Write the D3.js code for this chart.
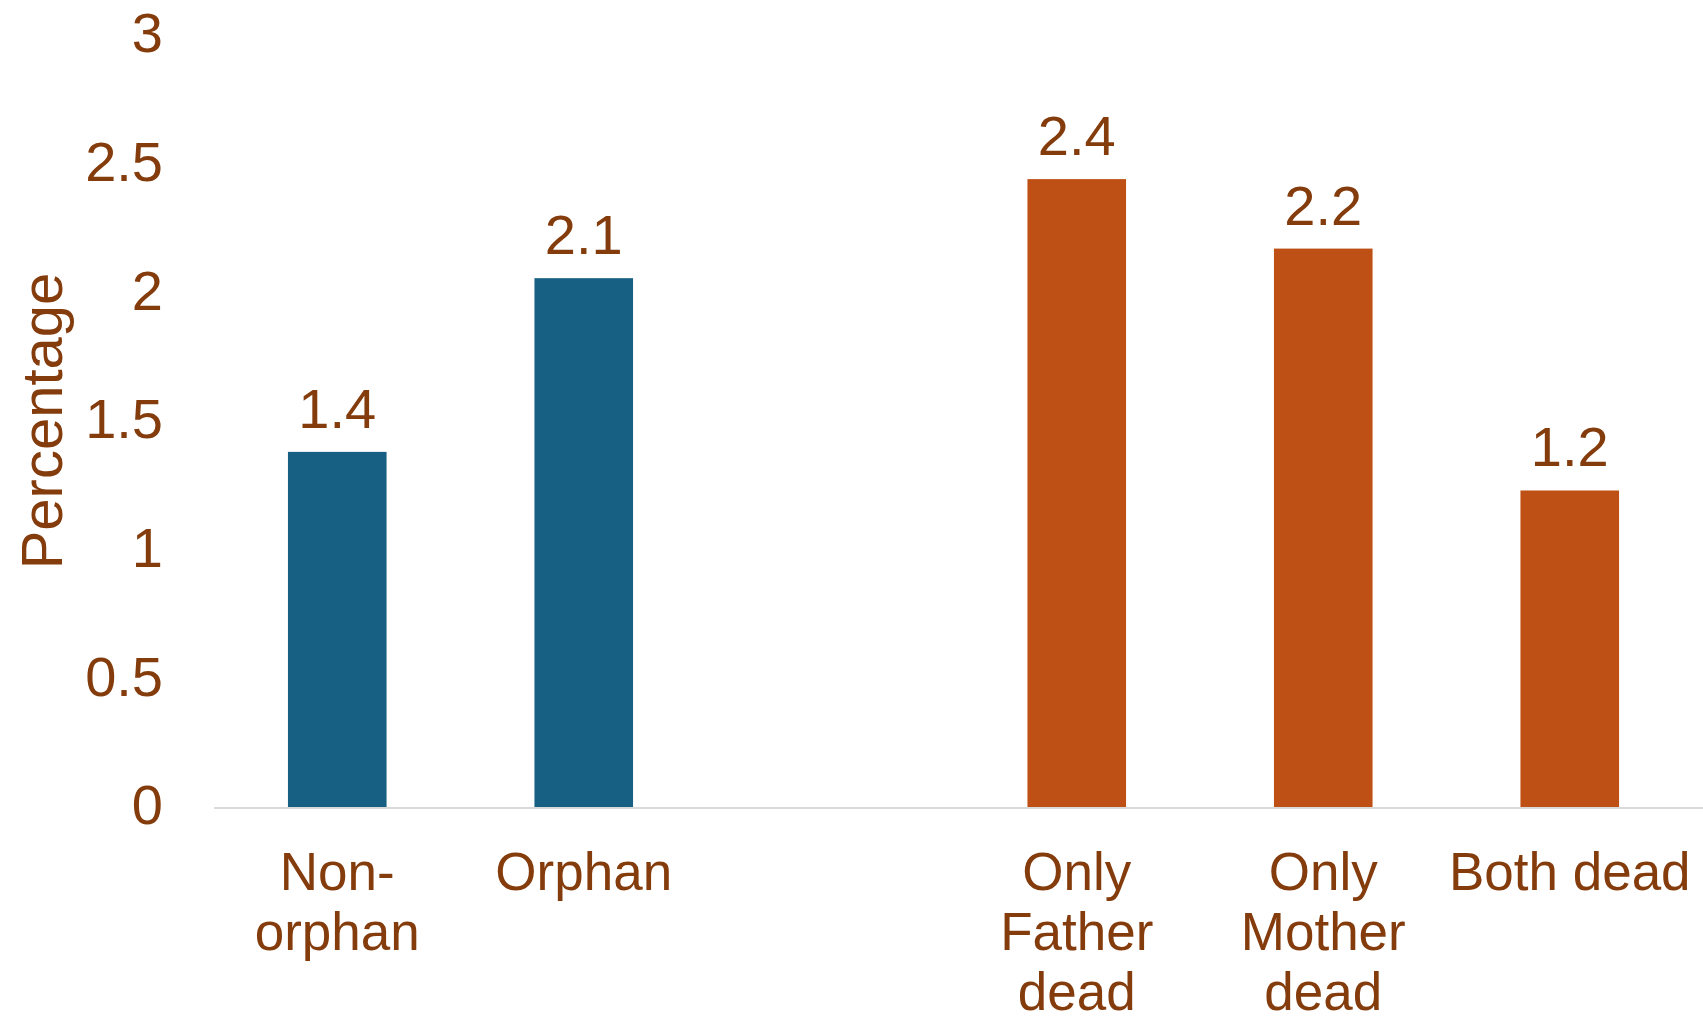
<!DOCTYPE html>
<html>
<head>
<meta charset="utf-8">
<script src="https://cdn.jsdelivr.net/npm/d3@7"></script>
<style>
  body { margin: 0; background: #fff; }
  text { font-family: "Liberation Sans", Arial, sans-serif; }
</style>
</head>
<body>
<div id="canvas"></div>
<script>
"use strict"

// data
let categories = ["Non-orphan", "Orphan", "gap", "Only Father dead", "Only Mother dead", "Both dead"];
let categoryLines = [["Non-", "orphan"], ["Orphan"], [], ["Only", "Father", "dead"], ["Only", "Mother", "dead"], ["Both dead"]];
let values = [1.38, 2.055, null, 2.44, 2.17, 1.23];
let groups = ["all", "all", null, "type", "type", "type"];
let yTicks = [0, 0.5, 1, 1.5, 2, 2.5, 3];

let drawingWidth = 1703;
let drawingHeight = 1018;

let textColor = "#843c0c";
let blue = "#186083";
let orange = "#bf5015";

let plotLeft = 214;
let plotRight = 1693;
let baseY = 807;
let topY = 35;

let drawing = d3.select("#canvas")
    .append("svg")
    .attr("width", drawingWidth)
    .attr("height", drawingHeight);

let x = d3.scaleBand()
    .domain(categories)
    .range([plotLeft, plotRight])
    .paddingInner(0.6)
    .paddingOuter(0.3);

let y = d3.scaleLinear()
    .domain([0, 3])
    .range([baseY, topY]);

// y axis, labels only
let yAxis = drawing.append("g")
    .attr("transform", "translate(" + plotLeft + ",0)")
    .call(d3.axisLeft(y).tickValues(yTicks).tickSize(0).tickPadding(51).tickFormat(d3.format("")));
yAxis.select(".domain").remove();
yAxis.selectAll("text")
    .attr("fill", textColor)
    .attr("font-size", 56)
    .attr("dy", "0.3em");

// axis title
drawing.append("text")
    .attr("transform", "translate(62,421) rotate(-90)")
    .attr("text-anchor", "middle")
    .attr("fill", textColor)
    .attr("font-size", 58)
    .text("Percentage");

// bars
let rows = categories.map((c, i) => ({cat: c, value: values[i], group: groups[i]}))
    .filter(d => d.value !== null);

drawing.selectAll(".bar")
    .data(rows)
    .enter()
    .append("rect")
    .attr("class", "bar")
    .attr("x", d => x(d.cat))
    .attr("width", x.bandwidth())
    .attr("y", d => y(d.value))
    .attr("height", d => y(0) - y(d.value))
    .attr("fill", d => d.group === "all" ? blue : orange);

// value labels
drawing.selectAll(".val")
    .data(rows)
    .enter()
    .append("text")
    .attr("class", "val")
    .attr("x", d => x(d.cat) + x.bandwidth() / 2)
    .attr("y", d => y(d.value) - 24)
    .attr("text-anchor", "middle")
    .attr("fill", textColor)
    .attr("font-size", 56)
    .text(d => d.value.toFixed(1));

// baseline
drawing.append("line")
    .attr("x1", plotLeft)
    .attr("x2", drawingWidth)
    .attr("y1", baseY + 1)
    .attr("y2", baseY + 1)
    .attr("stroke", "#d9d9d9")
    .attr("stroke-width", 2);

// category labels
let xAxis = drawing.append("g")
    .attr("transform", "translate(0," + baseY + ")")
    .call(d3.axisBottom(x).tickSize(0).tickFormat(""));
xAxis.select(".domain").remove();

xAxis.selectAll(".tick").each(function(d) {
    let lines = categoryLines[categories.indexOf(d)];
    let t = d3.select(this).select("text")
        .attr("fill", textColor)
        .attr("font-size", 53)
        .attr("y", 0)
        .attr("dy", null);
    lines.forEach((ln, i) => {
        t.append("tspan")
            .attr("x", 0)
            .attr("y", 83 + i * 60)
            .text(ln);
    });
});
</script>
</body>
</html>
